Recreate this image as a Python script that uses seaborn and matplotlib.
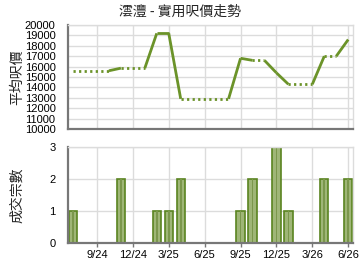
import matplotlib
matplotlib.use("Agg")
import matplotlib.pyplot as plt
import seaborn as sns
import pandas as pd
import numpy as np

# ---- data (month index: 0 = Jun 2024) ----
months = [1, 5, 8, 9, 10, 15, 16, 18, 19, 22, 24]
prices = [15600, 15850, 19200, 19200, 12900, 16800, 16600, 15400, 14300, 17000, 18600]
counts = [1, 2, 1, 1, 2, 1, 2, 3, 1, 2, 2]
tick_months = [3, 6, 9, 12, 15, 18, 21, 24]
tick_labels = ["9/24", "12/24", "3/25", "6/25", "9/25", "12/25", "3/26", "6/26"]
title = "澐灃 - 實用呎價走勢"
ylabel_top = "平均呎價"
ylabel_bot = "成交宗數"

sns.set_theme(style="white")
plt.rcParams['font.family'] = ['Noto Sans CJK TC', 'Liberation Sans', 'DejaVu Sans']

W, H = 360, 270
fig = plt.figure(figsize=(W / 100, H / 100), dpi=100)
ax1 = fig.add_axes([68 / W, 1 - 129 / H, 285 / W, 104 / H])
ax2 = fig.add_axes([68 / W, 1 - 243 / H, 285 / W, 96 / H])

line_col = "#6b9329"
grid_col = "#dcdcdc"
spine_col = "#777777"

# ---- build line segments: solid between consecutive months, dotted carry-forward over gaps ----
rows = []
seg = 0
for i in range(len(months) - 1):
    m0, m1 = months[i], months[i + 1]
    v0, v1 = prices[i], prices[i + 1]
    if m1 - m0 == 1:
        rows += [(m0, v0, seg, "solid"), (m1, v1, seg, "solid")]
        seg += 1
    else:
        rows += [(m0, v0, seg, "dot"), (m1 - 1, v0, seg, "dot")]
        seg += 1
        rows += [(m1 - 1, v0, seg, "solid"), (m1, v1, seg, "solid")]
        seg += 1
df_line = pd.DataFrame(rows, columns=["month", "price", "seg", "kind"])

sns.lineplot(data=df_line, x="month", y="price", units="seg", style="kind",
             estimator=None, dashes={"solid": "", "dot": (0.8, 1.2)},
             color=line_col, linewidth=2.0, ax=ax1, legend=False)
for ln in ax1.get_lines():
    ln.set_dash_capstyle("butt")
    ln.set_solid_capstyle("butt")

xmin, xmax = 0.58, 24.4
for ax in (ax1, ax2):
    ax.set_xlim(xmin, xmax)
    ax.set_xticks(tick_months)
    ax.grid(True, color=grid_col, linewidth=1.0)
    ax.set_axisbelow(True)
    for s in ("top", "right"):
        ax.spines[s].set_visible(True)
        ax.spines[s].set_color(grid_col)
        ax.spines[s].set_linewidth(1.0)
    for s in ("left", "bottom"):
        ax.spines[s].set_color(spine_col)
        ax.spines[s].set_linewidth(1.6)

ax1.set_ylim(10000, 20000)
ax1.set_yticks(range(10000, 20001, 1000))
ax1.set_xticklabels([])
ax1.tick_params(axis="both", length=0, labelsize=8, pad=9, colors="black")
ax1.set_xlabel("")
ax1.set_ylabel(ylabel_top, fontsize=10)
ax1.yaxis.set_label_coords(-0.155, 0.5)
for t in ax1.get_yticklabels():
    t.set_fontfamily(['Liberation Sans', 'DejaVu Sans'])

# ---- bars ----
df_bar = pd.DataFrame({"month": months, "count": counts})
sns.barplot(data=df_bar, x="month", y="count", native_scale=True, width=0.7,
            color="#a2c16c", edgecolor="#5a8420", linewidth=1.2, ax=ax2)
sns.barplot(data=df_bar, x="month", y="count", native_scale=True, width=0.14,
            color="#7ea43f", edgecolor="none", linewidth=0, ax=ax2)
ax2.set_xlim(xmin, xmax)
ax2.set_ylim(0, 3)
ax2.set_yticks([0, 1, 2, 3])
ax2.set_xticks(tick_months)
ax2.set_xticklabels(tick_labels)
ax2.tick_params(axis="y", length=0, labelsize=8, pad=9, colors="black")
ax2.tick_params(axis="x", length=3, width=1, color=spine_col, labelsize=8, pad=2, colors="black")
ax2.tick_params(axis="x", bottom=True)
ax2.set_xlabel("")
ax2.set_ylabel(ylabel_bot, fontsize=10)
ax2.yaxis.set_label_coords(-0.155, 0.5)
for t in ax2.get_yticklabels() + ax2.get_xticklabels():
    t.set_fontfamily(['Liberation Sans', 'DejaVu Sans'])

fig.text(0.5, 1 - 12 / H, title, ha="center", va="center", fontsize=10)

fig.savefig("out.png", dpi=100, facecolor="white")
